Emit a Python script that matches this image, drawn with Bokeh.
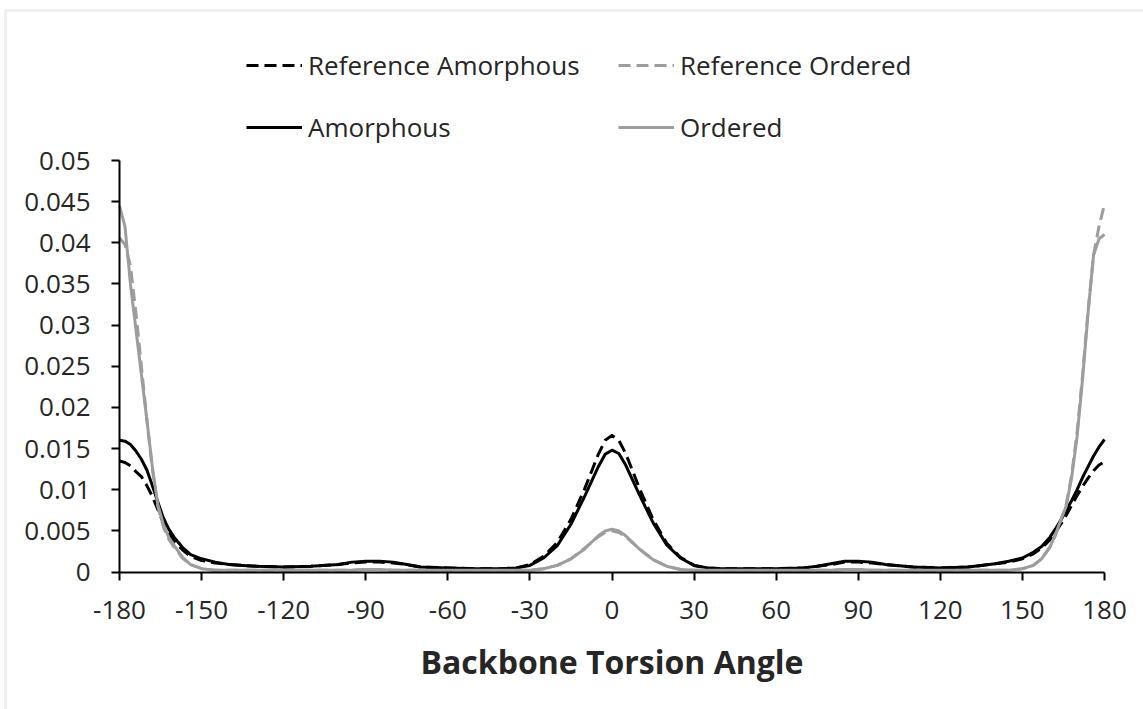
from bokeh.plotting import figure
from bokeh.models import (Range1d, FixedTicker, Legend, LegendItem, BoxAnnotation, LinearAxis)
from bokeh.embed import file_html
from bokeh.resources import INLINE

# Torsion angle grid (degrees), denser near the trans peaks and the cis peak
angle = [
    -180, -178, -176, -174, -172, -170, -168, -166, -164, -162, -160, -157, -154, -150,
    -145, -140, -135, -130, -120, -110, -100, -95, -90, -85, -80, -75, -70, -60, -50, -40, -35,
    -30, -25, -20, -15, -10, -5, -2.5, 0, 2.5, 5, 10, 15, 20, 25, 30,
    35, 40, 50, 60, 70, 75, 80, 85, 90, 95, 100, 110, 120, 130, 135, 140, 145,
    150, 154, 157, 160, 162, 164, 166, 168, 170, 172, 174, 176, 178, 180,
]

ref_amorphous = [
    0.0135, 0.0133, 0.0129, 0.0122, 0.0116, 0.0105, 0.0092, 0.0076, 0.0060, 0.0047, 0.0037, 0.0027, 0.0019, 0.0014,
    0.0011, 0.0009, 0.0008, 0.0007, 0.0006, 0.0007, 0.0009, 0.0011, 0.0012, 0.0012, 0.0011, 0.0009, 0.0006, 0.0005, 0.0004, 0.0004, 0.0005,
    0.0009, 0.0019, 0.0036, 0.0064, 0.0101, 0.0143, 0.0160, 0.0166, 0.0160, 0.0144, 0.0102, 0.0064, 0.0035, 0.0018, 0.0008,
    0.0005, 0.0004, 0.0004, 0.0004, 0.0005, 0.0007, 0.0009, 0.0012, 0.0012, 0.0011, 0.0009, 0.0006, 0.0005, 0.0006, 0.0008, 0.0010, 0.0012,
    0.0016, 0.0022, 0.0029, 0.0039, 0.0048, 0.0058, 0.0069, 0.0081, 0.0093, 0.0104, 0.0114, 0.0123, 0.0130, 0.0134,
]

ref_ordered = [
    0.0406, 0.0398, 0.0372, 0.0315, 0.0250, 0.0185, 0.0125, 0.0080, 0.0055, 0.0040, 0.0030, 0.0017, 0.0009, 0.0004,
    0.0002, 0.0002, 0.0002, 0.0002, 0.0002, 0.0002, 0.0002, 0.0002, 0.0003, 0.0003, 0.0002, 0.0002, 0.0002, 0.0002, 0.0002, 0.0002, 0.0002,
    0.0002, 0.0004, 0.0008, 0.0016, 0.0029, 0.0043, 0.0048, 0.0050, 0.0048, 0.0043, 0.0028, 0.0015, 0.0007, 0.0003, 0.0002,
    0.0002, 0.0002, 0.0002, 0.0002, 0.0002, 0.0002, 0.0002, 0.0003, 0.0003, 0.0002, 0.0002, 0.0002, 0.0002, 0.0002, 0.0002, 0.0002, 0.0002,
    0.0004, 0.0008, 0.0016, 0.0030, 0.0044, 0.0062, 0.0082, 0.0118, 0.0170, 0.0240, 0.0318, 0.0385, 0.0420, 0.0447,
]

amorphous = [
    0.0160, 0.0159, 0.0155, 0.0147, 0.0137, 0.0124, 0.0105, 0.0085, 0.0066, 0.0052, 0.0042, 0.0030, 0.0021, 0.0016,
    0.0012, 0.0009, 0.0008, 0.0007, 0.0006, 0.0007, 0.0009, 0.0012, 0.0013, 0.0013, 0.0012, 0.0009, 0.0006, 0.0005, 0.0004, 0.0004, 0.0005,
    0.0008, 0.0017, 0.0032, 0.0058, 0.0092, 0.0128, 0.0143, 0.0148, 0.0144, 0.0130, 0.0094, 0.0060, 0.0033, 0.0017, 0.0008,
    0.0005, 0.0004, 0.0004, 0.0004, 0.0005, 0.0007, 0.0010, 0.0013, 0.0013, 0.0012, 0.0009, 0.0006, 0.0005, 0.0006, 0.0008, 0.0010, 0.0013,
    0.0017, 0.0024, 0.0031, 0.0042, 0.0052, 0.0063, 0.0075, 0.0087, 0.0100, 0.0115, 0.0128, 0.0141, 0.0152, 0.0161,
]

ordered = [
    0.0445, 0.0420, 0.0350, 0.0295, 0.0240, 0.0185, 0.0128, 0.0082, 0.0058, 0.0042, 0.0032, 0.0018, 0.0009, 0.0004,
    0.0002, 0.0002, 0.0002, 0.0002, 0.0002, 0.0002, 0.0002, 0.0002, 0.0003, 0.0003, 0.0002, 0.0002, 0.0002, 0.0002, 0.0002, 0.0002, 0.0002,
    0.0002, 0.0004, 0.0008, 0.0016, 0.0028, 0.0044, 0.0050, 0.0052, 0.0050, 0.0044, 0.0028, 0.0015, 0.0007, 0.0003, 0.0002,
    0.0002, 0.0002, 0.0002, 0.0002, 0.0002, 0.0002, 0.0002, 0.0003, 0.0003, 0.0002, 0.0002, 0.0002, 0.0002, 0.0002, 0.0002, 0.0002, 0.0002,
    0.0004, 0.0008, 0.0016, 0.0030, 0.0045, 0.0063, 0.0080, 0.0115, 0.0165, 0.0235, 0.0315, 0.0385, 0.0405, 0.0410,
]

x_ticks = [-180, -150, -120, -90, -60, -30, 0, 30, 60, 90, 120, 150, 180]
x_tick_labels = ["-180", "-150", "-120", "-90", "-60", "-30", "0", "30", "60", "90", "120", "150", "180"]
y_ticks = [0, 0.005, 0.01, 0.015, 0.02, 0.025, 0.03, 0.035, 0.04, 0.045, 0.05]
y_tick_labels = ["0", "0.005", "0.01", "0.015", "0.02", "0.025", "0.03", "0.035", "0.04", "0.045", "0.05"]

X_MIN, X_MAX = -180, 180
Y_MIN, Y_MAX = 0, 0.05

FONT = "Open Sans"
TEXT = "#262626"
BLACK = "#000000"
GREY = "#9d9d9d"

# Canvas geometry: the plotting frame spans the whole canvas and the axes are
# pinned at fixed data locations, so the legend above the axes stays visible.
W, H = 1143, 709
AX_LEFT, AX_RIGHT, AX_TOP, AX_BOTTOM = 119, 1104, 160, 571.5
deg_per_px = (X_MAX - X_MIN) / (AX_RIGHT - AX_LEFT)
val_per_px = (Y_MAX - Y_MIN) / (AX_BOTTOM - AX_TOP)
x_range = Range1d(X_MIN - AX_LEFT * deg_per_px, X_MAX + (W - AX_RIGHT) * deg_per_px)
y_range = Range1d(Y_MIN - (H - AX_BOTTOM) * val_per_px, Y_MAX + AX_TOP * val_per_px)

p = figure(width=W, height=H, output_backend="svg", toolbar_location=None,
           x_range=x_range, y_range=y_range,
           x_axis_location=None, y_axis_location=None,
           min_border=0)
p.outline_line_color = None
p.grid.visible = False
p.background_fill_color = "white"
p.border_fill_color = "white"

xaxis = LinearAxis(fixed_location=Y_MIN, bounds=(X_MIN, X_MAX), ticker=FixedTicker(ticks=x_ticks))
yaxis = LinearAxis(fixed_location=X_MIN, bounds=(Y_MIN, Y_MAX), ticker=FixedTicker(ticks=y_ticks))
for ax in (xaxis, yaxis):
    ax.axis_line_color = BLACK
    ax.axis_line_width = 2
    ax.major_tick_line_color = BLACK
    ax.major_tick_line_width = 2
    ax.major_tick_out = 8
    ax.major_tick_in = 0
    ax.minor_tick_line_color = None
    ax.major_label_text_font = FONT
    ax.major_label_text_font_size = "26px"
    ax.major_label_text_color = TEXT

xaxis.major_label_overrides = {v: s for v, s in zip(x_ticks, x_tick_labels)}
xaxis.major_label_standoff = 21
xaxis.axis_label = "Backbone Torsion Angle"
xaxis.axis_label_text_font = FONT
xaxis.axis_label_text_font_style = "bold"
xaxis.axis_label_text_font_size = "32px"
xaxis.axis_label_text_color = TEXT
xaxis.axis_label_standoff = 17

yaxis.major_label_overrides = {v: s for v, s in zip(y_ticks, y_tick_labels)}
yaxis.major_label_standoff = 21

p.add_layout(xaxis, "below")
p.add_layout(yaxis, "left")

# light outer frame of the chart area (top and left edges fall inside the canvas)
p.add_layout(BoxAnnotation(left=x_range.start + 5 * deg_per_px, right=x_range.end + 20,
                           top=y_range.end - 10 * val_per_px, bottom=y_range.start - 0.01,
                           fill_alpha=0, line_color="#cccccc", line_width=3))

# curves
r_ref_am = p.line(angle, ref_amorphous, line_color=BLACK, line_width=3, line_dash="12 6", line_join="round")
r_ref_or = p.line(angle, ref_ordered, line_color=GREY, line_width=3, line_dash="12 6", line_join="round")
r_am = p.line(angle, amorphous, line_color=BLACK, line_width=3, line_join="round")
r_or = p.line(angle, ordered, line_color=GREY, line_width=3, line_join="round")

# legend: two rows of two entries above the plot area
entries = [
    ("Reference Amorphous", r_ref_am, (246, 626)),
    ("Reference Ordered", r_ref_or, (618, 626)),
    ("Amorphous", r_am, (246, 564)),
    ("Ordered", r_or, (618, 564)),
]
for label, rend, loc in entries:
    leg = Legend(items=[LegendItem(label=label, renderers=[rend])], location=loc,
                 padding=0, margin=0, spacing=0, border_line_alpha=0, background_fill_alpha=0,
                 glyph_width=56, glyph_height=20, label_standoff=6, label_height=20,
                 label_text_font=FONT, label_text_font_size="26px", label_text_color=TEXT)
    p.add_layout(leg)

open("out.html", "w").write(file_html(p, INLINE))
